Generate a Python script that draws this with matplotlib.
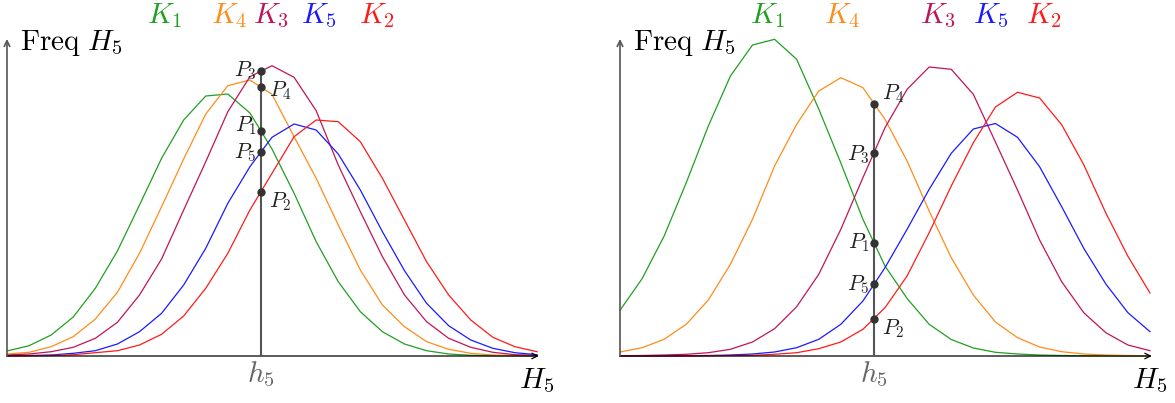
import numpy as np
import matplotlib.pyplot as plt

plt.rcParams['mathtext.fontset'] = 'cm'
plt.rcParams['font.family'] = ['DejaVu Serif']

# sample index along H5 (25 bins), h5 sits between bins 11 and 12
bins = np.arange(25)
h5 = 11.5

# left panel: frequency heights per bin
left_k1 = [5, 10.3, 21, 39, 67.7, 105, 151, 197.7, 236, 260, 262, 243, 207,
           162.7, 114.3, 74.3, 44.3, 24.3, 12, 5.3, 2, 0.7, 0.3, 0.1, 0]
left_k4 = [2, 3.7, 9.3, 19.3, 37, 63.7, 102.7, 149.3, 197, 242, 270.3, 276, 261.7,
           219.3, 177.7, 131, 86, 51, 29.3, 14.3, 6.7, 2.7, 1, 0.5, 0.2]
left_k3 = [1, 2, 4.3, 8.7, 17.7, 33.7, 61, 97, 146, 194.3, 244.3, 279.3, 290.3,
           278.7, 245.3, 191, 144.3, 99.3, 61, 34.3, 17.7, 8.7, 3.7, 1.3, 0.7]
left_k5 = [0.3, 0.5, 1, 2.7, 5.3, 12, 24.3, 42.7, 71, 107.7, 152.7, 189.3, 218.7,
           232, 226, 202, 166, 124.3, 85.3, 52.7, 30.3, 16, 7.7, 3.3, 1.3]
left_k2 = [0, 0.2, 0.5, 1.3, 3.3, 5.3, 11, 21.7, 40, 67.7, 102.7, 146, 182.7,
           219.3, 236, 234.3, 214.3, 177.7, 136, 94.3, 61, 36, 18.7, 9.3, 4.3]

# right panel
right_k1 = [45.7, 77.3, 120, 173.3, 230, 280, 311, 316.7, 296.7, 247, 193, 136.7, 90,
            57.5, 31.7, 16.5, 8, 3.7, 2, 1, 0.5, 0.2, 0.1, 0, 0]
right_k4 = [4, 8.3, 16.7, 31.7, 56, 91.7, 136.7, 190, 231.7, 265, 278.3, 268.3, 236.7,
            195, 145, 98.3, 61, 34, 18.3, 9, 4.3, 2, 1, 0.5, 0.2]
right_k3 = [0.3, 0.5, 1, 1.7, 3.3, 6.7, 14, 27.3, 49.3, 81.7, 126.7, 178.3, 228.3,
            266.7, 289, 286.7, 261.7, 214, 166, 116, 74.3, 43.3, 23.3, 11, 5.3]
right_k5 = [0, 0, 0.1, 0.2, 0.5, 1, 2, 4, 8.3, 16.7, 31.7, 55, 88.3,
            126.7, 166.7, 202.7, 227, 232.5, 218.7, 189.3, 149.3, 107.7, 72, 43.3, 24.3]
right_k2 = [0, 0, 0, 0.1, 0.2, 0.4, 0.7, 1.7, 3.3, 7.3, 14, 26.7, 48.3,
            80, 123.3, 170, 213.3, 249, 263.7, 258, 231.3, 191.3, 143, 99.7, 63]

colors = {'K_1': '#20a020', 'K_2': '#ff1a1a', 'K_3': '#c0145a',
          'K_4': '#ff8c1a', 'K_5': '#1a1aff'}
point_names = {'K_1': 'P_1', 'K_2': 'P_2', 'K_3': 'P_3', 'K_4': 'P_4', 'K_5': 'P_5'}

# legend label positions (bin units)
left_label_x = {'K_1': 7.16, 'K_4': 10.05, 'K_3': 11.96, 'K_5': 14.13, 'K_2': 16.76}
right_label_x = {'K_1': 6.69, 'K_4': 10.05, 'K_3': 14.4, 'K_5': 16.78, 'K_2': 19.18}

# offsets (px) of point labels: (dx, dy, ha)
left_offsets = {'P_3': (-4, 1, 'right'), 'P_4': (8, -4, 'left'), 'P_1': (-4, 5, 'right'),
                'P_5': (-4, -1, 'right'), 'P_2': (8, -10, 'left')}
right_offsets = {'P_4': (8, 10, 'left'), 'P_3': (-4, -2, 'right'), 'P_1': (-4, 0, 'right'),
                 'P_5': (-4, 0, 'right'), 'P_2': (8, -10, 'left')}

W, H = 1175, 403
fig = plt.figure(figsize=(W / 100, H / 100), dpi=100)


def panel(left_px, series, label_x, offsets):
    ax = fig.add_axes([left_px / W, 47 / H, 530 / W, 320 / H])
    ax.set_xlim(0, 24)
    ax.set_ylim(0, 320)
    ax.axis('off')

    for name in ['K_1', 'K_4', 'K_3', 'K_5', 'K_2']:
        ax.plot(bins, series[name], color=colors[name], lw=0.9, clip_on=False)

    # axes with arrow heads
    ax.annotate('', xy=(24.08, 0), xytext=(0, 0),
                arrowprops=dict(arrowstyle='->', color='black', lw=0.9,
                                shrinkA=0, shrinkB=0), annotation_clip=False)
    ax.annotate('', xy=(0, 317), xytext=(0, 0),
                arrowprops=dict(arrowstyle='->', color='#555555', lw=1.2,
                                shrinkA=0, shrinkB=0), annotation_clip=False)

    # h5 cut
    vals = {n: np.interp(h5, bins, series[n]) for n in series}
    top = max(vals.values())
    ax.plot([h5, h5], [0, top], color='#555555', lw=1.5, zorder=3)
    for n, v in vals.items():
        ax.plot(h5, v, 'o', ms=5, color='#333333', zorder=4)
        p = point_names[n]
        dx, dy, ha = offsets[p]
        ax.annotate(f'${p}$', xy=(h5, v), xytext=(dx * 0.72, dy * 0.72),
                    textcoords='offset points', ha=ha, va='center',
                    fontsize=15.5, color='#222222')

    for n, xl in label_x.items():
        ax.text(xl, 333, f'${n}$', color=colors[n], fontsize=21,
                ha='center', va='baseline')

    ax.text(0.58, 306, r'$\mathrm{Freq}\ H_5$', fontsize=21, ha='left', va='baseline')
    ax.text(h5, -26, r'$h_5$', fontsize=21, color='#666666', ha='center', va='baseline')
    ax.text(24.0, -32, r'$H_5$', fontsize=21, ha='center', va='baseline')
    return ax


panel(7, {'K_1': left_k1, 'K_2': left_k2, 'K_3': left_k3, 'K_4': left_k4, 'K_5': left_k5},
      left_label_x, left_offsets)
panel(620, {'K_1': right_k1, 'K_2': right_k2, 'K_3': right_k3, 'K_4': right_k4, 'K_5': right_k5},
      right_label_x, right_offsets)

fig.savefig('out.png', dpi=100)
